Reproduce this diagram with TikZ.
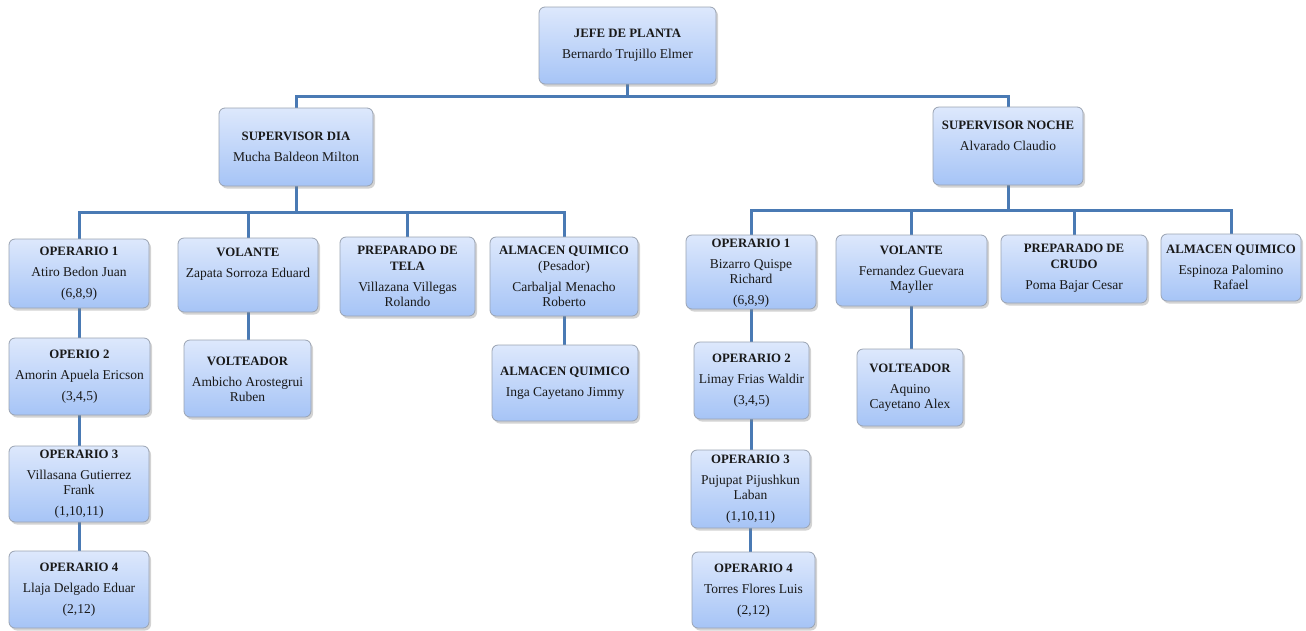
\documentclass[tikz,border=0pt]{standalone}
\usepackage{fontspec}
\setmainfont{Liberation Serif}
\usetikzlibrary{shadows,backgrounds}
\definecolor{boxtop}{HTML}{DDE8FC}
\definecolor{boxbot}{HTML}{A6C4F6}
\definecolor{boxline}{HTML}{9AA3B2}
\definecolor{conn}{HTML}{4A7AB4}
\tikzset{
  box/.style={draw=boxline, line width=0.8pt, rounded corners=6pt, top color=boxtop, bottom color=boxbot,
    inner sep=0pt, outer sep=0pt, drop shadow={opacity=0.35, shadow xshift=2pt, shadow yshift=-2.5pt}},
  txt/.style={align=center, inner sep=0pt, font=\fontsize{13.5}{15}\selectfont, text=black!90},
  connector/.style={draw=conn, line width=3pt}
}
\newcommand\tb[1]{{\fontsize{12.8}{15}\selectfont\bfseries #1}}
\newcommand\obox[7]{%
  \node[box, minimum width={(#4-#2)*1pt}, minimum height={(#5-#3)*1pt}] (#1) at ({(#2+#4)/2},{(#3+#5)/2}) {};
  \node[txt] (#1t) at ({(#2+#4)/2},#6) {#7};}
\begin{document}
\begin{tikzpicture}[x=1pt,y=-1pt]
\useasboundingbox (0,0) rectangle (1306,630);
\obox{jefe}{539}{7}{716}{84}{45}{\tb{JEFE DE PLANTA}\\[6pt]Bernardo Trujillo Elmer}
\obox{sdia}{219}{108}{373}{186}{146.5}{\tb{SUPERVISOR DIA}\\[6pt]Mucha Baldeon Milton}
\obox{snoc}{933}{107}{1083}{185}{135.5}{\tb{SUPERVISOR NOCHE}\\[6pt]Alvarado Claudio}
\obox{lop1}{9}{239}{149}{308}{273.5}{\tb{OPERARIO 1}\\[6pt]Atiro Bedon Juan\\[6pt](6,8,9)}
\obox{lvol}{178}{238}{318}{312}{264}{\tb{VOLANTE}\\[6pt]Zapata Sorroza Eduard}
\obox{lprep}{340}{237}{475}{316}{276}{\tb{PREPARADO DE}\\[1pt]\tb{TELA}\\[6pt]Villazana Villegas\\Rolando}
\obox{lalm}{490}{237}{638}{316}{276}{\tb{ALMACEN QUIMICO}\\[1pt](Pesador)\\[6pt]Carbaljal Menacho\\Roberto}
\obox{lop2}{9}{338}{150}{415}{376.5}{\tb{OPERIO 2}\\[6pt]Amorin Apuela Ericson\\[6pt](3,4,5)}
\obox{lvolt}{184}{340}{311}{417}{379}{\tb{VOLTEADOR}\\[6pt]Ambicho Arostegrui\\Ruben}
\obox{lalm2}{492}{345}{638}{421}{383.5}{\tb{ALMACEN QUIMICO}\\[6pt]Inga Cayetano Jimmy}
\obox{lop3}{9}{446}{149}{522}{484}{\tb{OPERARIO 3}\\[6pt]Villasana Gutierrez\\Frank\\[6pt](1,10,11)}
\obox{lop4}{9}{551}{149}{628}{590}{\tb{OPERARIO 4}\\[6pt]Llaja Delgado Eduar\\[6pt](2,12)}
\obox{rop1}{686}{235}{816}{309}{273}{\tb{OPERARIO 1}\\[6pt]Bizarro Quispe\\Richard\\[6pt](6,8,9)}
\obox{rvol}{836}{235}{987}{306}{270}{\tb{VOLANTE}\\[6pt]Fernandez Guevara\\Mayller}
\obox{rprep}{1001}{235}{1147}{303}{268.5}{\tb{PREPARADO DE}\\[1pt]\tb{CRUDO}\\[6pt]Poma Bajar Cesar}
\obox{ralm}{1161}{234}{1301}{301}{267.5}{\tb{ALMACEN QUIMICO}\\[6pt]Espinoza Palomino\\Rafael}
\obox{rop2}{694}{342}{809}{419}{381}{\tb{OPERARIO 2}\\[6pt]Limay Frias Waldir\\[6pt](3,4,5)}
\obox{rvolt}{857}{349}{963}{426}{387.5}{\tb{VOLTEADOR}\\[6pt]Aquino\\Cayetano Alex}
\obox{rop3}{691}{450}{810}{528}{489}{\tb{OPERARIO 3}\\[6pt]Pujupat Pijushkun\\Laban\\[6pt](1,10,11)}
\obox{rop4}{692}{552}{815}{628}{590.5}{\tb{OPERARIO 4}\\[6pt]Torres Flores Luis\\[6pt](2,12)}
\coordinate (b1) at (627.5,96);
\coordinate (b2) at (296,212);
\coordinate (b3) at (1008,210);
\begin{scope}[on background layer]
\draw[connector] (jefe.south) -- (b1);
\draw[connector] (sdia.north) |- (b1) -| (snoc.north);
\draw[connector] (sdia.south) -- (b2);
\draw[connector] (lop1.north) |- (b2) -| (lalm.north);
\draw[connector] (lvol.north) -- (lvol.north |- b2);
\draw[connector] (lprep.north) -- (lprep.north |- b2);
\draw[connector] (snoc.south) -- (b3);
\draw[connector] (rop1.north) |- (b3) -| (ralm.north);
\draw[connector] (rvol.north) -- (rvol.north |- b3);
\draw[connector] (rprep.north) -- (rprep.north |- b3);
\draw[connector] (lop1.south) -- (lop1.south |- lop2.north);
\draw[connector] (lop2.south) -- (lop2.south |- lop3.north);
\draw[connector] (lop3.south) -- (lop3.south |- lop4.north);
\draw[connector] (lvol.south) -- (lvol.south |- lvolt.north);
\draw[connector] (lalm.south) -- (lalm.south |- lalm2.north);
\draw[connector] (rop1.south) -- (rop1.south |- rop2.north);
\draw[connector] (rop2.south) -- (rop2.south |- rop3.north);
\draw[connector] (rop3.south) -- (rop3.south |- rop4.north);
\draw[connector] (rvol.south) -- (rvol.south |- rvolt.north);
\end{scope}
\end{tikzpicture}
\end{document}
